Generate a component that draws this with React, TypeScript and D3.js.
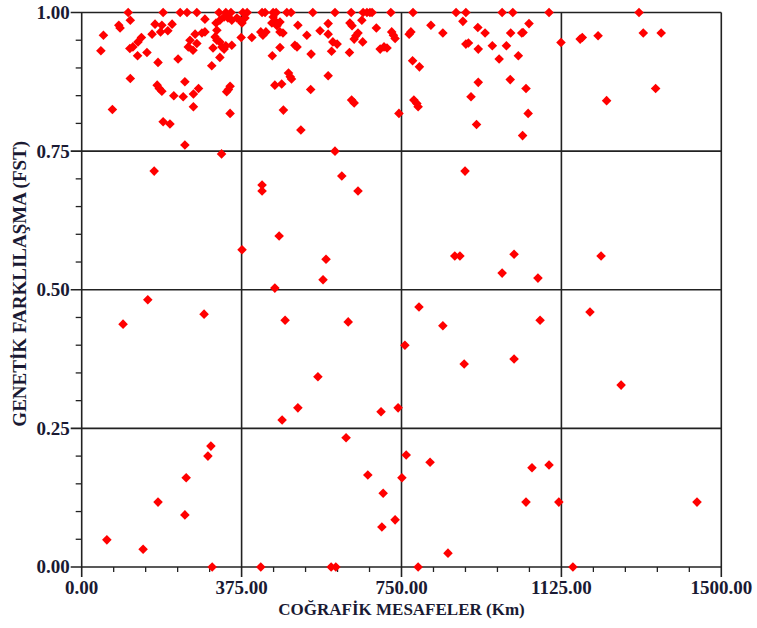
import * as d3 from 'd3';

// tick labels
const xTicks = [0, 375, 750, 1125, 1500];
const yTicks = [0, 0.25, 0.5, 0.75, 1.0];
const xTitle = 'COĞRAFİK MESAFELER (Km)';
const yTitle = 'GENETİK FARKLILAŞMA (FST)';

// distances (km) of pairs with FST = 1.00
const kmAtOne = [109, 191, 231, 247, 270, 322, 338, 350, 378, 388, 423, 430, 449, 456, 481, 491, 542, 594, 632, 660, 669, 676, 681, 725, 777, 878, 901, 986, 1011, 1096, 1307];

// [km, fst] pairs, 0.95 - 1.00
const bandTop: [number, number][] = [
  [114, 0.986], [87, 0.977], [90, 0.972], [172, 0.979], [188, 0.977], [212, 0.979], [289, 0.988],
  [315, 0.981], [324, 0.986], [334, 0.992], [343, 0.99], [352, 0.986], [364, 0.99], [371, 0.986],
  [383, 0.99], [317, 0.968], [376, 0.981], [449, 0.992], [453, 0.985], [446, 0.981], [458, 0.976],
  [465, 0.983], [465, 0.965], [472, 0.963], [507, 0.977], [578, 0.98], [629, 0.981], [634, 0.976],
  [657, 0.986], [691, 0.972], [819, 0.977], [894, 0.984], [929, 0.973], [1049, 0.98],
  [51, 0.959], [165, 0.961], [185, 0.965], [202, 0.967], [266, 0.961], [254, 0.95], [282, 0.963],
  [289, 0.965], [140, 0.955], [313, 0.956], [317, 0.95], [374, 0.955], [399, 0.955], [420, 0.965],
  [425, 0.959], [432, 0.965], [528, 0.959], [559, 0.967], [578, 0.961], [648, 0.963], [643, 0.958],
  [639, 0.952], [727, 0.965], [731, 0.959], [735, 0.953], [768, 0.961], [772, 0.965], [847, 0.963],
  [946, 0.963], [1006, 0.963], [1032, 0.963], [1035, 0.964], [1169, 0.952], [1174, 0.955],
  [1211, 0.958], [1317, 0.963], [1359, 0.963],
];

// 0.90 - 0.95
const bandHigh: [number, number][] = [
  [270, 0.944], [250, 0.938], [261, 0.932], [132, 0.947], [120, 0.938], [113, 0.935], [131, 0.922],
  [153, 0.928], [324, 0.947], [589, 0.947], [599, 0.943], [659, 0.947], [1124, 0.946], [901, 0.943],
  [907, 0.945], [308, 0.936], [329, 0.938], [338, 0.94], [352, 0.941], [334, 0.934], [324, 0.919],
  [305, 0.904], [179, 0.91], [226, 0.916], [465, 0.937], [500, 0.941], [505, 0.938], [700, 0.934],
  [709, 0.938], [716, 0.936], [447, 0.922], [538, 0.925], [586, 0.93], [628, 0.928], [930, 0.934],
  [963, 0.94], [996, 0.94], [979, 0.916], [1024, 0.922], [776, 0.913], [792, 0.902], [45, 0.931],
];

// 0.74 - 0.90
const bandMid: [number, number][] = [
  [114, 0.881], [177, 0.869], [182, 0.863], [188, 0.858], [242, 0.875], [274, 0.863], [262, 0.853],
  [216, 0.85], [238, 0.848], [340, 0.857], [344, 0.861], [348, 0.867], [485, 0.891], [489, 0.884],
  [492, 0.88], [453, 0.869], [469, 0.871], [578, 0.886], [537, 0.861], [930, 0.874], [1005, 0.879],
  [1042, 0.863], [1346, 0.863], [913, 0.848], [779, 0.842], [786, 0.836], [789, 0.83],
  [262, 0.83], [72, 0.825], [191, 0.803], [207, 0.799], [242, 0.761], [348, 0.818], [328, 0.745],
  [473, 0.824], [633, 0.842], [639, 0.837], [744, 0.818], [514, 0.788], [594, 0.75], [1047, 0.818],
  [926, 0.798], [1034, 0.778], [1231, 0.841],
];

// below 0.74
const bandLow: [number, number][] = [
  [170, 0.714], [899, 0.714], [423, 0.689], [423, 0.678], [648, 0.678], [610, 0.705], [376, 0.572],
  [463, 0.597], [573, 0.555], [566, 0.518], [453, 0.503], [875, 0.561], [887, 0.561], [1014, 0.564],
  [1218, 0.561], [986, 0.53], [1070, 0.521], [155, 0.482], [1192, 0.46], [791, 0.469], [1075, 0.445],
  [477, 0.445], [287, 0.456], [97, 0.438], [625, 0.442], [847, 0.435], [758, 0.4], [897, 0.366],
  [1014, 0.375], [554, 0.343], [1265, 0.328], [507, 0.287], [702, 0.28], [742, 0.287], [470, 0.265],
  [620, 0.233], [303, 0.218], [296, 0.2], [761, 0.202], [817, 0.189], [671, 0.166], [751, 0.161],
  [245, 0.161], [1056, 0.179], [1096, 0.184], [707, 0.133], [179, 0.117], [1042, 0.117],
  [1119, 0.117], [1443, 0.117], [242, 0.094], [735, 0.085], [704, 0.072], [59, 0.049], [144, 0.032],
  [859, 0.025],
];

// distances (km) of pairs with FST = 0.00
const kmAtZero = [306, 420, 585, 596, 789, 1152];

const W = 757;
const H = 628;
const FONT = '"Liberation Serif", "Times New Roman", serif';
const TEXT = '#1a1a33';
const LINE = '#222';

export default function App() {
  const x = d3.scaleLinear().domain([0, 1500]).range([81.7, 721.3]);
  const y = d3.scaleLinear().domain([0, 1]).range([567, 12.5]);

  const points: [number, number][] = [
    ...kmAtOne.map((k) => [k, 1] as [number, number]),
    ...bandTop,
    ...bandHigh,
    ...bandMid,
    ...bandLow,
    ...kmAtZero.map((k) => [k, 0] as [number, number]),
  ];

  const diamond = d3.symbol().type(d3.symbolSquare).size(46)();
  const xMinor = d3.range(0, 1501, 75).filter((v) => v % 375 !== 0);
  const yMinor = d3.range(1, 20).map((i) => i * 0.05).filter((_, i) => (i + 1) % 5 !== 0);

  return (
    <svg width={W} height={H} style={{ position: 'absolute', left: 0, top: 0, background: '#fff' }}>
      <rect width={W} height={H} fill="#fff" />
      {/* grid + frame */}
      {xTicks.map((t) => (
        <line key={'gx' + t} x1={x(t)} x2={x(t)} y1={y(1)} y2={y(0) + 10} stroke={LINE} strokeWidth={1.6} />
      ))}
      {yTicks.map((t) => (
        <line key={'gy' + t} x1={x(0) - 11} x2={x(1500)} y1={y(t)} y2={y(t)} stroke={LINE} strokeWidth={1.6} />
      ))}
      {xMinor.map((t) => (
        <line key={'mx' + t} x1={x(t)} x2={x(t)} y1={y(0)} y2={y(0) + 5} stroke={LINE} strokeWidth={1.3} />
      ))}
      {yMinor.map((t) => (
        <line key={'my' + t} x1={x(0) - 6} x2={x(0)} y1={y(t)} y2={y(t)} stroke={LINE} strokeWidth={1.3} />
      ))}
      {/* tick labels */}
      {yTicks.map((t) => (
        <text key={'ly' + t} x={x(0) - 12} y={y(t)} dy="0.34em" textAnchor="end"
          fontFamily={FONT} fontWeight="bold" fontSize={19} fill={TEXT}>
          {t.toFixed(2)}
        </text>
      ))}
      {xTicks.map((t) => (
        <text key={'lx' + t} x={x(t)} y={594} textAnchor="middle"
          fontFamily={FONT} fontWeight="bold" fontSize={19} fill={TEXT}>
          {t.toFixed(2)}
        </text>
      ))}
      <text x={x(750)} y={615} textAnchor="middle" fontFamily={FONT} fontWeight="bold" fontSize={17} fill={TEXT}>
        {xTitle}
      </text>
      <text transform={`translate(26,${y(0.5) - 6}) rotate(-90)`} textAnchor="middle"
        fontFamily={FONT} fontWeight="bold" fontSize={19} fill={TEXT}>
        {yTitle}
      </text>
      {/* points */}
      {points.map(([k, f], i) => (
        <path key={'p' + i} d={diamond} transform={`translate(${x(k)},${y(f)}) rotate(45)`} fill="#ff0000" />
      ))}
    </svg>
  );
}
